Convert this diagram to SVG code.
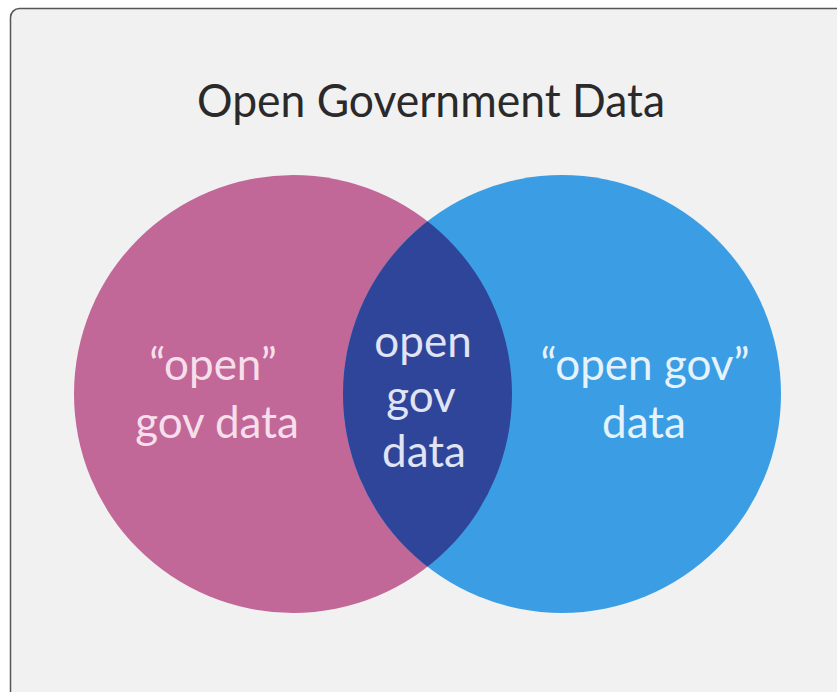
<svg xmlns="http://www.w3.org/2000/svg" width="837" height="692" viewBox="0 0 837 692">
  <style>
    .title { font-family: Lato, "Open Sans", "Liberation Sans", sans-serif; font-size: 47px; fill: #2a2a2a; }
    .lbl { font-family: Lato, "Open Sans", "Liberation Sans", sans-serif; font-size: 44px; text-anchor: middle; }
    .lpink { fill: #f6dfeb; }
    .lmid { fill: #e0e4f4; }
    .lblue { fill: #e6f3fc; }
  </style>
  <defs>
    <clipPath id="clipBlue">
      <circle cx="562" cy="394" r="219"/>
    </clipPath>
  </defs>
  <rect x="0" y="0" width="837" height="692" fill="#ffffff"/>
  <rect id="panel" x="10.5" y="8.5" width="850" height="700" rx="9" fill="#f1f1f1" stroke="#555555" stroke-width="1.5"/>
  <text id="title" class="title" x="197" y="117" textLength="468" lengthAdjust="spacingAndGlyphs">Open Government Data</text>
  <g id="circle-open">
    <circle cx="293" cy="394" r="219" fill="#c26898"/>
  </g>
  <g id="circle-gov">
    <circle cx="562" cy="394" r="219" fill="#3b9ee4"/>
  </g>
  <g id="intersection">
    <circle cx="293" cy="394" r="219" fill="#2f4599" clip-path="url(#clipBlue)"/>
  </g>
  <g id="label-open">
    <text class="lbl lpink" x="213" y="380">“open”</text>
    <text class="lbl lpink" x="217" y="438">gov data</text>
  </g>
  <g id="label-mid">
    <text class="lbl lmid" x="423" y="357">open</text>
    <text class="lbl lmid" x="421" y="412">gov</text>
    <text class="lbl lmid" x="424" y="467">data</text>
  </g>
  <g id="label-gov">
    <text class="lbl lblue" x="645" y="380">“open gov”</text>
    <text class="lbl lblue" x="644" y="438">data</text>
  </g>
  <g id="connectors"></g>
</svg>
